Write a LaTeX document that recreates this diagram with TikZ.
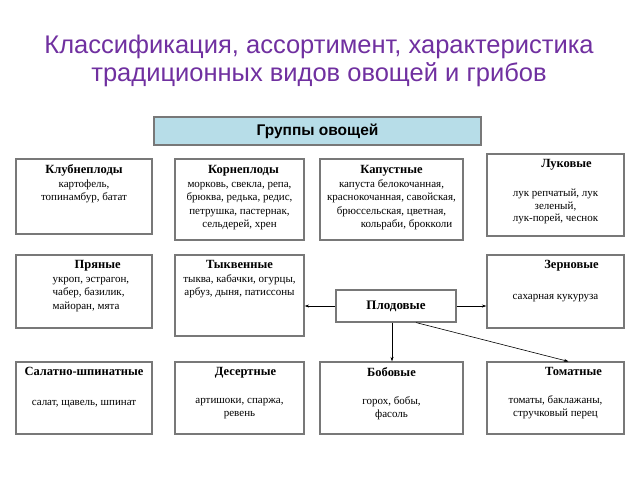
\documentclass[tikz,border=0pt]{standalone}
\usepackage{fontspec}
\setmainfont{Liberation Serif}
\newfontfamily\headfont{Liberation Sans}
\usetikzlibrary{arrows.meta}
\definecolor{titlepurple}{RGB}{112,48,160}
\definecolor{headfill}{RGB}{183,221,232}
\definecolor{boxgray}{RGB}{120,120,120}
\newcommand\grptitle[1]{{\fontsize{12.5}{13.5}\selectfont\bfseries #1}}

\begin{document}
\begin{tikzpicture}[x=1pt, y=-1pt,
  box/.style={draw=boxgray, line width=1.1pt, rectangle, inner sep=0pt},
  txt/.style={anchor=north, align=center, inner sep=0pt,
    font=\fontsize{11}{13.4}\selectfont},
  arr/.style={-{Stealth[length=4.5pt,width=3pt]}, line width=0.6pt}]
\useasboundingbox (0,0) rectangle (640,480);

% title
\node[font=\headfont\fontsize{25.5}{28}\selectfont, text=titlepurple, align=center] (title) at (319,61)
  {Классификация, ассортимент, характеристика\\традиционных видов овощей и грибов};

% header
\node[box, fill=headfill, minimum width=327pt, minimum height=28pt,
  font=\headfont\bfseries\fontsize{15.5}{16}\selectfont] (groups) at (317.5,131) {Группы овощей};

% row 1
\node[box, minimum width=136pt, minimum height=75pt] (klub) at (84,196.5) {};
\node[txt] (klubtxt) at ([yshift=-6pt]klub.north)
  {\grptitle{Клубнеплоды}\\картофель,\\топинамбур, батат};
\node[box, minimum width=129pt, minimum height=81pt] (korn) at (239.5,199.5) {};
\node[txt] (korntxt) at ([yshift=-7pt]korn.north)
  {\hspace*{8pt}\grptitle{Корнеплоды}\\морковь, свекла, репа,\\брюква, редька, редис,\\петрушка, пастернак,\\сельдерей, хрен};
\node[box, minimum width=143pt, minimum height=81pt] (kap) at (391.5,199.5) {};
\node[txt] (kaptxt) at ([yshift=-7pt]kap.north)
  {\grptitle{Капустные}\\капуста белокочанная,\\краснокочанная, савойская,\\брюссельская, цветная,\\\hspace*{30pt}кольраби, брокколи};
\node[box, minimum width=137pt, minimum height=82pt] (luk) at (555.5,195) {};
\node[txt, font=\fontsize{11}{12.7}\selectfont] (luktxt) at ([yshift=-6pt]luk.north)
  {\hspace*{22pt}\grptitle{Луковые}\\[16pt]лук репчатый, лук\\зеленый,\\лук-порей, чеснок};

% row 2
\node[box, minimum width=136pt, minimum height=73pt] (pryan) at (84,291.5) {};
\node[txt, anchor=north west, align=left] (pryantxt) at ([xshift=37pt,yshift=-6pt]pryan.north west)
  {\hspace*{22pt}\grptitle{Пряные}\\укроп, эстрагон,\\чабер, базилик,\\майоран, мята};
\node[box, minimum width=129pt, minimum height=81pt] (tykv) at (239.5,295.5) {};
\node[txt] (tykvtxt) at ([yshift=-6pt]tykv.north)
  {\grptitle{Тыквенные}\\тыква, кабачки, огурцы,\\арбуз, дыня, патиссоны};
\node[box, minimum width=120pt, minimum height=32pt, font=\bfseries\fontsize{13}{14}\selectfont] (plod) at (396,306) {Плодовые};
\node[box, minimum width=137pt, minimum height=73pt] (zern) at (555.5,291.5) {};
\node[txt] (zerntxt) at ([yshift=-6pt]zern.north)
  {\hspace*{32pt}\grptitle{Зерновые}\\[17pt]сахарная кукуруза};

% row 3
\node[box, minimum width=136pt, minimum height=72pt] (salat) at (84,398) {};
\node[txt] (salattxt) at ([yshift=-6pt]salat.north)
  {\grptitle{Салатно-шпинатные}\\[16pt]салат, щавель, шпинат};
\node[box, minimum width=129pt, minimum height=72pt] (desert) at (239.5,398) {};
\node[txt] (deserttxt) at ([yshift=-6pt]desert.north)
  {\hspace*{12pt}\grptitle{Десертные}\\[14pt]артишоки, спаржа,\\ревень};
\node[box, minimum width=143pt, minimum height=72pt] (bob) at (391.5,398) {};
\node[txt] (bobtxt) at ([yshift=-6pt]bob.north)
  {\grptitle{Бобовые}\\[14pt]горох, бобы,\\фасоль};
\node[box, minimum width=137pt, minimum height=72pt] (tomat) at (555.5,398) {};
\node[txt] (tomattxt) at ([yshift=-6pt]tomat.north)
  {\hspace*{36pt}\grptitle{Томатные}\\[14pt]томаты, баклажаны,\\стручковый перец};

% arrows
\draw[arr] (plod.west) -- (plod.west -| tykv.east);
\draw[arr] (plod.east) -- (plod.east -| zern.west);
\draw[arr] ([xshift=-4pt]plod.south) -- ([xshift=-4pt]plod.south |- bob.north);
\draw[arr] ([xshift=20pt]plod.south) -- ([xshift=13pt]tomat.north);
\end{tikzpicture}
\end{document}
